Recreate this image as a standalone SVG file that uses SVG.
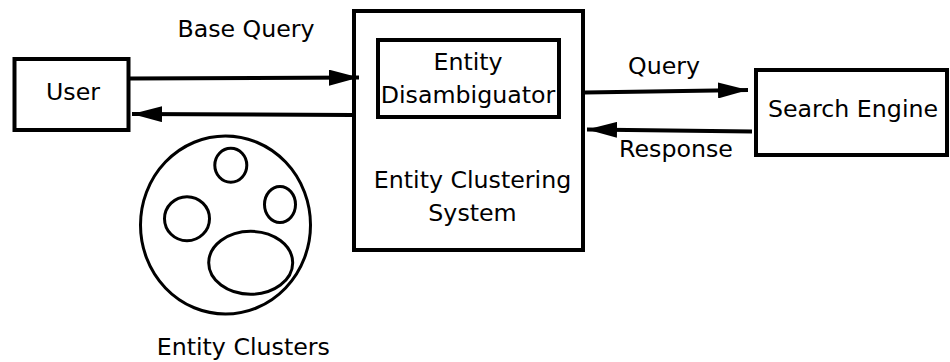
<svg xmlns="http://www.w3.org/2000/svg" width="950" height="362" viewBox="0 0 950 362">
<style>
.box{fill:#fff;stroke:#000;stroke-width:4}
.ell{fill:none;stroke:#000;stroke-width:3}
.lbl{font-family:"DejaVu Sans",sans-serif;font-size:23.7px;fill:#000;text-anchor:middle}
.conn{stroke:#000;stroke-width:4;fill:none}
</style>
<defs>
<marker id="ah" viewBox="0 0 30 16" refX="30" refY="8" markerWidth="30" markerHeight="16" markerUnits="userSpaceOnUse" orient="auto">
<path d="M0,0 L30,8 L0,16 Z" fill="#000"/>
</marker>
</defs>
<g id="user"><rect class="box" x="14.5" y="59" width="114" height="71"/><text class="lbl" x="73" y="100">User</text></g>
<g id="ecs"><rect class="box" x="354" y="11" width="229" height="239"/>
<text class="lbl" x="472.5" y="187.5">Entity Clustering</text><text class="lbl" x="472.5" y="221">System</text></g>
<g id="disamb"><rect class="box" x="378" y="40" width="181" height="77"/>
<text class="lbl" x="468" y="70">Entity</text><text class="lbl" x="468" y="103">Disambiguator</text></g>
<g id="search"><rect class="box" x="756" y="70" width="191" height="85"/><text class="lbl" x="853" y="117">Search Engine</text></g>
<g id="clusters">
<ellipse class="ell" cx="225.5" cy="225" rx="85" ry="89"/>
<ellipse class="ell" cx="230.8" cy="165.3" rx="16" ry="17"/>
<ellipse class="ell" cx="187" cy="218.7" rx="22.5" ry="22"/>
<ellipse class="ell" cx="280" cy="204.5" rx="15.5" ry="18"/>
<ellipse class="ell" cx="250.7" cy="262.8" rx="42" ry="31.5"/>
<text class="lbl" x="243.3" y="355">Entity Clusters</text>
</g>
<g id="connectors">
<line class="conn" x1="130" y1="78.5" x2="359" y2="77.5" marker-end="url(#ah)"/>
<line class="conn" x1="352" y1="115" x2="132" y2="114" marker-end="url(#ah)"/>
<line class="conn" x1="585" y1="92.5" x2="748" y2="90" marker-end="url(#ah)"/>
<line class="conn" x1="752" y1="131.5" x2="587" y2="129.5" marker-end="url(#ah)"/>
<text class="lbl" x="246" y="37">Base Query</text>
<text class="lbl" x="664" y="74">Query</text>
<text class="lbl" x="676" y="157">Response</text>
</g>
</svg>
